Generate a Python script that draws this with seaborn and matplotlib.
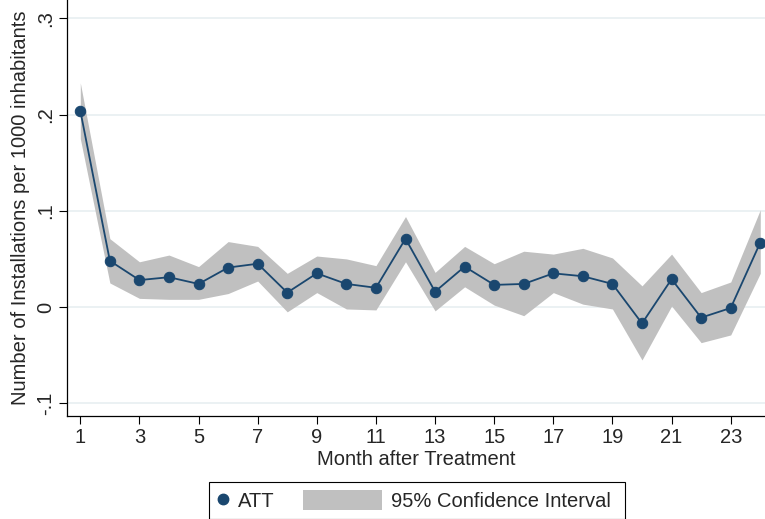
import numpy as np
import pandas as pd
import matplotlib
matplotlib.use('Agg')
import matplotlib.pyplot as plt
import seaborn as sns
from matplotlib.lines import Line2D
from matplotlib.patches import Patch
from matplotlib.legend_handler import HandlerPatch

# Data
months = list(range(1, 25))
att = [0.204, 0.048, 0.028, 0.031, 0.024, 0.041, 0.045, 0.015, 0.035, 0.024,
       0.020, 0.071, 0.016, 0.042, 0.023, 0.024, 0.035, 0.032, 0.024, -0.017,
       0.029, -0.011, -0.001, 0.067]
ci_low = [0.175, 0.025, 0.009, 0.008, 0.008, 0.014, 0.027, -0.005, 0.015, -0.002,
          -0.003, 0.047, -0.004, 0.021, 0.002, -0.009, 0.015, 0.003, -0.002, -0.055,
          0.001, -0.037, -0.029, 0.035]
ci_high = [0.233, 0.071, 0.047, 0.054, 0.042, 0.068, 0.063, 0.035, 0.053, 0.050,
           0.043, 0.094, 0.036, 0.063, 0.045, 0.058, 0.055, 0.061, 0.051, 0.022,
           0.055, 0.015, 0.026, 0.101]
yticks = [-0.1, 0, 0.1, 0.2, 0.3]
ytick_labels = ['-.1', '0', '.1', '.2', '.3']
xticks = list(range(1, 24, 2))

df = pd.DataFrame({'month': months, 'att': att, 'lo': ci_low, 'hi': ci_high})

navy = '#1a476f'
grey = '#c0c0c0'

sns.set_style('ticks')
plt.rcParams['font.family'] = ['Liberation Sans', 'DejaVu Sans']
plt.rcParams['font.size'] = 14.5

fig = plt.figure(figsize=(7.65, 5.19), dpi=100)
ax = fig.add_axes([67.3 / 765, 1 - 415.7 / 519, 1 - 67.3 / 765, 415.7 / 519])

# confidence band, then the ATT line with markers
ax.fill_between(df['month'], df['lo'], df['hi'], color=grey, lw=0, zorder=1)
sns.lineplot(data=df, x='month', y='att', marker='o', color=navy, markersize=7.5,
             markeredgecolor=navy, linewidth=1.3, ax=ax, zorder=3)

ax.set_xlim(0.56, 24.16)
ax.set_ylim(-0.1129, 0.319)
ax.set_xticks(xticks)
ax.set_xticklabels([str(m) for m in xticks])
ax.set_yticks(yticks)
ax.set_yticklabels(ytick_labels, rotation=90, va='center')
ax.yaxis.grid(True, color='#e8eff1', lw=1.2, zorder=0)
ax.xaxis.grid(False)
ax.tick_params(direction='out', length=5.5, width=0.8, color='black', labelsize=14.5)
ax.tick_params(axis='y', pad=3)
sns.despine(ax=ax)
for s in ['left', 'bottom']:
    ax.spines[s].set_linewidth(0.9)
    ax.spines[s].set_color('black')

ax.set_xlabel('Month after Treatment', fontsize=14.5, labelpad=2)
ax.set_ylabel('Number of Installations per 1000 inhabitants', fontsize=14.5, labelpad=5)


class WidePatch(HandlerPatch):
    # wider grey box for the CI entry
    def legend_artist(self, legend, orig_handle, fontsize, handlebox):
        handlebox.width = 3.9 * fontsize
        return super().legend_artist(legend, orig_handle, fontsize, handlebox)


handles = [Line2D([], [], marker='o', color=navy, linestyle='none', markersize=7.5),
           Patch(facecolor=grey, edgecolor='none')]
labels = ['ATT', '95% Confidence Interval ']
leg = fig.legend(handles, labels, loc='upper left', bbox_to_anchor=(209 / 765, 1 - 482.3 / 519),
                 ncol=2, frameon=True, fancybox=False, framealpha=1, edgecolor='black',
                 borderaxespad=0, borderpad=0.4, handlelength=0.6, handleheight=1.1,
                 handletextpad=0.46, columnspacing=1.4, fontsize=14.5,
                 handler_map={Patch: WidePatch()})
leg.get_frame().set_linewidth(0.8)

fig.savefig('out.png', dpi=100)
